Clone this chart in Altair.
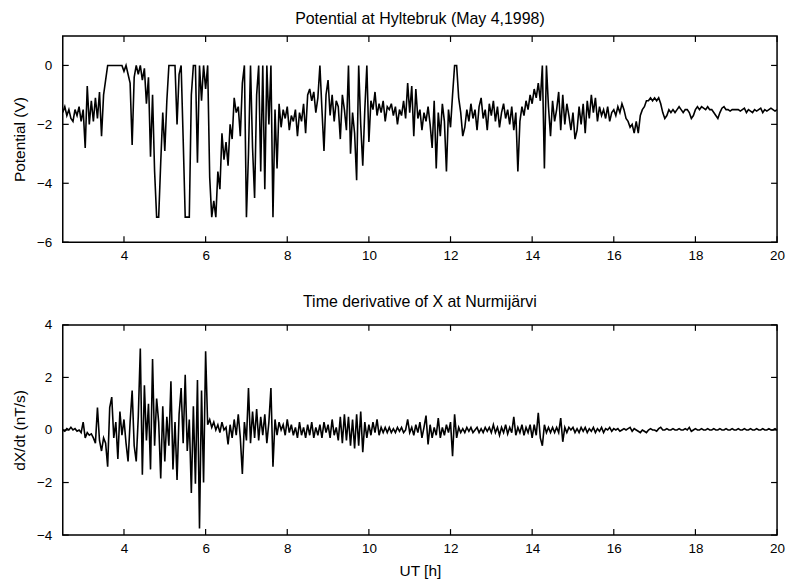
import altair as alt
import pandas as pd

# Sampling of both records (UT hours)
T0 = 2.5
DT = 0.05

# Potential at Hyltebruk (V), one value every 0.05 h from 2.5 h
POTENTIAL = [
    -1.6, -1.4, -1.7, -1.5, -1.8, -1.9, -1.5, -1.7, -1.4, -1.9, -1.5, -2.8, -0.7, -2.0, -1.2, -1.9, -1.1, -1.8, -0.9, -2.4,
    -1.0, -0.5, 0, 0, 0, 0, 0, 0, 0, 0, -0.2, 0, -0.3, -0.6, -2.7, -0.4, 0, -0.3, 0, -0.5,
    -0.1, -1.3, -0.4, -3.1, -1.0, -3.6, -5.15, -5.15, -3.3, -1.6, -2.9, -1.2, 0, 0, 0, 0, -2.0, -0.3, 0, -2.5,
    -5.15, -5.15, -5.15, -1.0, 0, 0, -3.3, 0, -1.2, 0, -0.8, 0, -3.8, -5.15, -4.6, -5.15, -3.6, -4.2, -2.3, -3.2,
    -2.6, -3.4, -2.0, -2.5, -1.1, -1.6, -1.4, -2.4, -0.6, 0, -5.15, -3.0, 0, -2.8, -4.5, -1.0, 0, -3.6, 0, -4.2,
    0, -2.0, 0, -5.15, -1.5, -3.5, -1.3, -2.1, -1.5, -1.8, -1.4, -2.2, -1.7, -1.9, -1.5, -2.4, -1.6, -1.9, -1.3, -2.3,
    -1.0, -0.8, -1.2, -0.9, -1.6, -1.1, 0, -1.5, -2.9, -1.0, -0.5, -1.7, -1.0, -1.9, -1.2, -1.4, -2.5, -1.0, -1.5, -2.2,
    0, -3.0, -1.6, -2.3, -3.9, 0, -2.0, -3.4, -1.5, 0, -2.6, -1.2, -1.5, -0.9, -1.7, -1.3, -1.6, -1.2, -1.9, -1.4,
    -1.5, -1.3, -1.7, -1.4, -2.0, -1.5, -1.7, -1.2, -1.8, -0.6, -1.6, -0.7, -2.4, -0.8, -1.8, -1.5, -2.2, -1.6, -1.9, -1.4,
    -2.0, -2.8, -1.2, -3.5, -1.6, -2.4, -1.3, -1.9, -3.6, -1.5, -2.1, -1.0, 0, 0, -1.1, -1.6, -2.4, -2.1, -1.5, -1.9,
    -1.3, -1.8, -1.5, -2.2, -1.4, -1.1, -1.8, -1.5, -2.2, -1.3, -1.7, -1.2, -1.9, -1.4, -2.1, -1.6, -1.3, -1.8, -1.5, -2.0,
    -1.4, -2.2, -1.6, -3.6, -1.9, -1.4, -1.7, -1.2, -1.5, -1.0, -1.3, -0.8, -1.1, -0.6, -1.2, 0, -3.5, 0, -1.4, -2.4,
    -1.2, -1.9, -1.5, -0.9, -2.2, -1.0, -2.0, -1.3, -1.7, -2.2, -1.6, -2.5, -2.2, -1.4, -2.0, -1.3, -2.3, -1.2, -1.8, -1.0,
    -1.6, -1.1, -1.9, -1.4, -1.7, -1.5, -1.8, -1.4, -1.9, -1.6, -1.5, -1.7, -1.4, -1.6, -1.3, -1.5, -1.8, -1.9, -2.1, -2.0,
    -2.3, -1.9, -2.3, -1.7, -1.5, -1.4, -1.2, -1.2, -1.1, -1.2, -1.1, -1.2, -1.1, -1.3, -1.6, -1.8, -1.7, -1.5, -1.6, -1.5,
    -1.6, -1.5, -1.4, -1.5, -1.6, -1.5, -1.5, -1.6, -1.8, -1.7, -1.5, -1.4, -1.5, -1.4, -1.45, -1.5, -1.4, -1.5, -1.5, -1.6,
    -1.7, -1.8, -1.6, -1.45, -1.4, -1.5, -1.5, -1.55, -1.5, -1.5, -1.5, -1.5, -1.55, -1.5, -1.45, -1.6, -1.5, -1.55, -1.6, -1.5,
    -1.55, -1.5, -1.45, -1.6, -1.5, -1.55, -1.5, -1.45, -1.5, -1.55, -1.5,
]

# Time derivative of X at Nurmijarvi (nT/s), same sampling
DXDT = [
    0.0, -0.05, 0.05, 0.0, 0.1, 0.0, 0.05, -0.05, 0.0, -0.1, 0.3, -0.3, -0.1, -0.2, -0.15, -0.3, -0.5, 0.85, -0.4, -0.8,
    -0.3, -0.5, -1.4, 0.85, 1.25, -0.3, 0.3, -1.1, 0.7, -0.2, 0.4, -0.5, -1.2, 0.3, 1.5, -0.6, -1.2, 0.5, 3.1, -1.7,
    1.7, -0.4, 1.0, -1.5, 2.7, -0.6, 1.2, 0.3, -1.85, 0.9, -1.2, 0.5, -0.6, 1.85, -1.5, 0.3, -1.9, 0.6, 1.6, -0.5,
    2.1, -0.8, 0.4, -2.4, 0.9, -2.05, 1.9, -3.75, 1.5, -2.0, 3.0, 0.2, 0.4, 0.1, 0.3, 0.0, 0.2, -0.1, 0.3, 0.0,
    0.1, -0.55, 0.2, -0.3, 0.4, -0.2, 0.6, -0.3, -1.67, 0.3, -0.4, 1.6, -0.5, 0.7, -0.3, 0.8, -0.4, 0.5, -0.2, 0.6,
    -0.5, 0.3, 1.6, -1.4, 0.4, -0.2, 0.3, 0.0, 0.2, -0.2, 0.4, -0.1, 0.2, -0.2, 0.1, -0.3, 0.3, -0.2, 0.1, -0.3,
    0.2, -0.2, 0.3, -0.3, 0.1, -0.2, 0.2, -0.3, 0.3, -0.1, 0.2, -0.3, 0.4, -0.2, 0.1, -0.4, 0.5, -0.5, 0.6, -0.4,
    0.5, -0.6, 0.4, -0.7, 0.6, -0.6, 0.7, -0.85, 0.3, -0.3, 0.2, -0.2, 0.3, -0.1, 0.4, -0.2, 0.1, -0.1, 0.1, -0.1,
    0.1, -0.1, 0.05, -0.1, 0.1, -0.05, 0.1, -0.1, 0.0, 0.4, -0.1, 0.1, -0.2, 0.2, -0.1, 0.3, -0.3, 0.1, 0.55, -0.55,
    0.2, -0.3, 0.1, -0.2, 0.45, -0.3, 0.1, -0.2, 0.2, -0.1, 0.3, -1.0, 0.6, -0.3, 0.1, -0.1, 0.05, -0.1, 0.1, -0.05,
    0.1, -0.1, 0.0, 0.1, -0.1, 0.05, -0.1, 0.1, -0.05, 0.1, -0.1, 0.2, -0.1, 0.1, -0.2, 0.1, -0.1, 0.2, -0.15, 0.1,
    -0.1, 0.5, -0.2, 0.1, -0.1, 0.2, -0.2, 0.1, -0.1, 0.2, -0.3, 0.2, -0.2, 0.65, -0.3, -0.6, 0.2, -0.1, 0.1, -0.1,
    0.1, -0.1, 0.1, -0.1, 0.45, -0.45, 0.1, -0.1, 0.1, 0.0, 0.1, -0.1, 0.05, -0.1, 0.1, -0.05, 0.1, -0.1, 0.05, -0.05,
    0.1, -0.1, 0.05, -0.05, 0.1, -0.1, 0.05, 0.0, 0.1, -0.05, 0.05, 0.0, 0.05, -0.05, 0.0, 0.05, 0.0, 0.05, 0.1, -0.05,
    0.05, 0.0, -0.05, -0.1, 0.0, -0.05, -0.1, 0.0, 0.05, 0.0, 0.0, -0.05, 0.05, 0.1, 0.0, 0.0, 0.05, 0.0, 0.0, 0.05,
    0.0, 0.0, 0.05, 0.0, 0.0, 0.05, 0.0, 0.1, -0.05, 0.0, 0.05, 0.0, 0.0, 0.05, 0.0, 0.0, 0.05, 0.0, 0.0, 0.05,
    0.0, 0.0, 0.05, 0.0, 0.0, 0.05, 0.0, 0.0, 0.05, 0.0, 0.0, 0.05, 0.0, 0.0, 0.05, 0.0, 0.0, 0.05, 0.0, 0.0,
    0.05, 0.0, 0.0, 0.05, 0.0, 0.0, 0.05, 0.0, 0.0, 0.05, 0.0,
]

X_DOMAIN = [2.5, 20]
X_TICKS = [4, 6, 8, 10, 12, 14, 16, 18, 20]
POT_DOMAIN = [-6, 1]
POT_TICKS = [-6, -4, -2, 0]
DX_DOMAIN = [-4, 4]
DX_TICKS = [-4, -2, 0, 2, 4]

FONT = "Liberation Sans"
W = 717
TICK = 6


def panel(values, ydom, yticks, title, ytitle, h, xtitle=None):
    df = pd.DataFrame({"t": [round(T0 + DT * i, 4) for i in range(len(values))], "v": values})
    xs = alt.Scale(domain=X_DOMAIN, nice=False, zero=False)
    ys = alt.Scale(domain=ydom, nice=False, zero=False)
    xaxis = alt.Axis(values=X_TICKS, ticks=False, domain=False, grid=False,
                     labelPadding=6, title=xtitle, titlePadding=9, labelFlush=False)
    yaxis = alt.Axis(values=yticks, ticks=False, domain=False, grid=False,
                     labelPadding=11, title=ytitle, titlePadding=9)
    X = lambda: alt.X("t:Q", scale=xs, axis=xaxis)
    Y = lambda: alt.Y("v:Q", scale=ys, axis=yaxis)
    line = alt.Chart(df).mark_line(color="black", strokeWidth=1.6, clip=True).encode(x=X(), y=Y())
    xt = pd.DataFrame({"t": X_TICKS})
    yt = pd.DataFrame({"v": yticks})
    top_t = alt.Chart(xt).mark_rule(color="black", strokeWidth=1.2).encode(
        x=X(), y=alt.value(0), y2=alt.value(TICK))
    bot_t = alt.Chart(xt).mark_rule(color="black", strokeWidth=1.2).encode(
        x=X(), y=alt.value(h), y2=alt.value(h - TICK))
    left_t = alt.Chart(yt).mark_rule(color="black", strokeWidth=1.2).encode(
        y=Y(), x=alt.value(0), x2=alt.value(TICK))
    right_t = alt.Chart(yt).mark_rule(color="black", strokeWidth=1.2).encode(
        y=Y(), x=alt.value(W), x2=alt.value(W - TICK))
    return alt.layer(line, top_t, bot_t, left_t, right_t).properties(
        width=W, height=h,
        title=alt.Title(title, fontSize=16, font=FONT, fontWeight="normal", color="black", offset=8),
    )


top = panel(POTENTIAL, POT_DOMAIN, POT_TICKS, "Potential at Hyltebruk (May 4,1998)", "Potential (V)", 207)
bottom = panel(DXDT, DX_DOMAIN, DX_TICKS, "Time derivative of X at Nurmijärvi", "dX/dt (nT/s)", 211, xtitle="UT [h]")

chart = alt.vconcat(top, bottom, spacing=30).properties(
    padding={"left": 11, "top": 9, "right": 5, "bottom": 5},
    background="white",
).configure_view(
    stroke="black", strokeWidth=1.5
).configure_axis(
    labelFont=FONT, labelFontSize=13.5, labelColor="black",
    titleFont=FONT, titleFontSize=15.5, titleFontWeight="normal", titleColor="black",
)

chart.save("out.html", embed_options={"renderer": "svg", "actions": False})
